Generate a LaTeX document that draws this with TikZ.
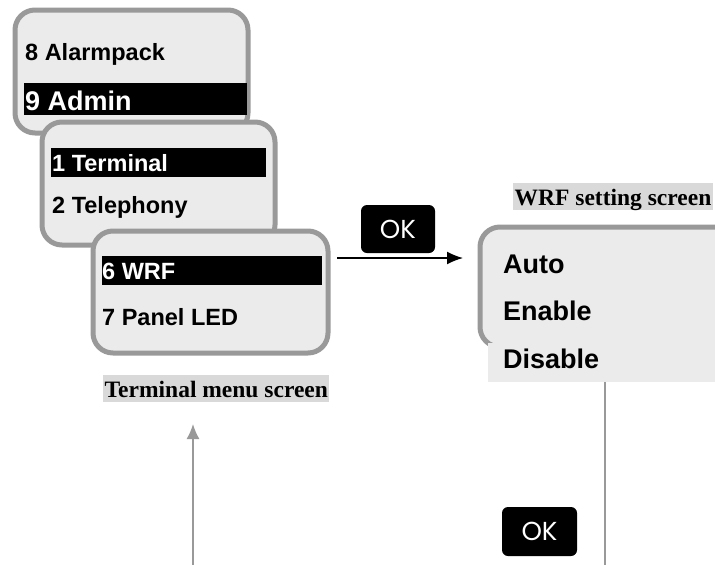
\documentclass[tikz,border=0pt]{standalone}
\usepackage{fontspec}
\setmainfont{Liberation Sans}
\newfontfamily\serifbf{Liberation Serif}
\newfontfamily\okfont{Poppins}
\usetikzlibrary{arrows.meta}
\definecolor{scrfill}{HTML}{EBEBEB}
\definecolor{scrline}{HTML}{999999}
\definecolor{lblbg}{HTML}{D9D9D9}
\begin{document}
\begin{tikzpicture}[x=1pt,y=-1pt,
  screen/.style={draw=scrline, line width=5pt, fill=scrfill, rounded corners=20pt, inner sep=0, anchor=north west},
  item/.style={anchor=base west, inner sep=0, font=\bfseries\fontsize{23.5}{28}\selectfont},
  bigitem/.style={anchor=base west, inner sep=0, font=\bfseries\fontsize{27}{32}\selectfont},
  selbar/.style={fill=black, inner sep=0, anchor=north west},
  caption/.style={fill=lblbg, anchor=base west, inner sep=0, inner xsep=1.5pt, text height=22pt, text depth=5pt, font=\serifbf\bfseries\fontsize{23.5}{28}\selectfont},
  okkey/.style={fill=black, rounded corners=6pt, text=white, minimum width=74pt, minimum height=48pt, inner sep=0, font=\okfont\fontsize{26}{30}\selectfont},
  grayline/.style={draw=scrline, line width=1.5pt}
]
\path[use as bounding box] (0,0) rectangle (715,565);
\clip (0,0) rectangle (715,565);

% screen 1
\node[screen, minimum width=233pt, minimum height=123pt] (s1) at (12.5,7.5) {};
\node[item] (t8) at (25,60) {8 Alarmpack};
\node[selbar, minimum width=223pt, minimum height=32pt] (b1) at (24,83) {};
\node[bigitem, text=white] (t9) at (25,110) {9 Admin};

% screen 2
\node[screen, minimum width=233pt, minimum height=123pt] (s2) at (39.5,119.5) {};
\node[selbar, minimum width=215pt, minimum height=29pt] (b2) at (51,148) {};
\node[item, text=white] (t1) at (52,171) {1 Terminal};
\node[item] (t2) at (52,213) {2 Telephony};

% screen 3
\node[screen, minimum width=235pt, minimum height=122pt] (s3) at (90.5,228.5) {};
\node[selbar, minimum width=220pt, minimum height=29pt] (b3) at (102,256) {};
\node[item, text=white] (t6) at (102,279) {6 WRF};
\node[item] (t7) at (102,325) {7 Panel LED};

\node[caption] (lbl1) at (103,397) {Terminal menu screen};

% OK arrow
\node[okkey] (ok1) at (398,229) {OK};
\coordinate (a1) at (337,258);
\coordinate (a2) at (463,258);
\draw[line width=1.5pt, -{Latex[length=16pt,width=13pt]}] (a1) -- (a2);

% WRF screen
\node[caption] (lbl2) at (513,205) {WRF setting screen};
\node[screen, minimum width=270pt, minimum height=120pt] (wrf) at (477.5,224.5) {};
\node[fill=scrfill, anchor=north west, inner sep=0, minimum width=240pt, minimum height=39pt] (dis) at (488,343) {};
\node[bigitem] (ta) at (503,273) {Auto};
\node[bigitem] (te) at (503,320) {Enable};
\node[bigitem] (td) at (503,368) {Disable};

% bottom
\coordinate (g1) at (193,566);
\coordinate (g2) at (193,424);
\draw[grayline, -{Latex[length=15pt,width=13pt]}] (g1) -- (g2);
\coordinate (v1) at (605,382);
\coordinate (v2) at (605,566);
\draw[grayline] (v1) -- (v2);
\node[okkey, minimum width=75pt, minimum height=49pt] (ok2) at (539.5,531.5) {OK};
\end{tikzpicture}
\end{document}
